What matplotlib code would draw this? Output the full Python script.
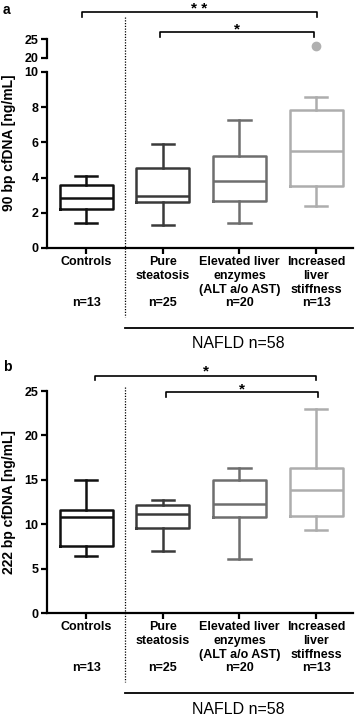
import matplotlib.pyplot as plt
import matplotlib.transforms as mtransforms

plt.rcParams['font.family'] = ['Liberation Sans', 'DejaVu Sans']
plt.rcParams['font.weight'] = 'bold'
plt.rcParams['axes.labelweight'] = 'bold'

groups = ["Controls", "Pure\nsteatosis", "Elevated liver\nenzymes\n(ALT a/o AST)",
          "Increased\nliver\nstiffness"]
group_n = ["n=13", "n=25", "n=20", "n=13"]
nafld_label = "NAFLD n=58"
colors = ["#111111", "#3a3a3a", "#6e6e6e", "#adadad"]

# panel a: 90 bp cfDNA (ng/mL), box summaries
a_whislo = [1.4, 1.3, 1.4, 2.4]
a_q1 = [2.2, 2.6, 2.65, 3.5]
a_med = [2.85, 2.95, 3.8, 5.5]
a_q3 = [3.6, 4.55, 5.2, 7.85]
a_whishi = [4.1, 5.9, 7.3, 8.6]
a_outlier_group = 3
a_outlier = 23.1

# panel b: 222 bp cfDNA (ng/mL)
b_whislo = [6.45, 6.95, 6.1, 9.3]
b_q1 = [7.6, 9.6, 10.8, 10.9]
b_med = [10.85, 11.15, 12.25, 13.85]
b_q3 = [11.65, 12.2, 14.95, 16.3]
b_whishi = [15.0, 12.7, 16.3, 23.0]

FIG_W, FIG_H = 359, 715
LW = 1.8
FS = 9


def fx(px):
    return px / FIG_W


def fy(px):
    return 1 - px / FIG_H


def style_axis(ax):
    for side in ("top", "right"):
        ax.spines[side].set_visible(False)
    for side in ("left", "bottom"):
        ax.spines[side].set_linewidth(1.6)
    ax.tick_params(axis="both", width=1.6, length=4, labelsize=FS, pad=2)


def draw_boxes(ax, whislo, q1, med, q3, whishi):
    for i in range(len(groups)):
        st = [dict(whislo=whislo[i], q1=q1[i], med=med[i], q3=q3[i], whishi=whishi[i], fliers=[])]
        props = dict(color=colors[i], linewidth=LW)
        ax.bxp(st, positions=[i], widths=0.69, capwidths=0.29, showfliers=False,
               boxprops=props, whiskerprops=props, capprops=props,
               medianprops=props, manage_ticks=False)


def bottom_labels(ax, ax_h_px):
    ax.set_xlim(-0.51, 3.48)
    ax.set_xticks(range(len(groups)))
    ax.set_xticklabels(groups, linespacing=1.2, fontsize=FS)
    trans = mtransforms.blended_transform_factory(ax.transData, ax.transAxes)
    for i, n in enumerate(group_n):
        ax.text(i, -55 / ax_h_px, n, transform=trans, ha="center", va="center", fontsize=FS)
    ax.plot([0.51, 3.48], [-80 / ax_h_px] * 2, transform=trans, color="k", lw=1.3, clip_on=False)
    ax.text(1.98, -96 / ax_h_px, nafld_label, transform=trans, ha="center", va="center",
            fontsize=11.5, fontweight="normal")
    return trans


def bracket(ax, trans, x0, x1, y, leg, label, ax_h_px, lift=0):
    yt = y / ax_h_px
    yl = (y - leg) / ax_h_px
    ax.plot([x0, x0, x1, x1], [yl, yt, yt, yl], transform=trans, color="k", lw=1.2, clip_on=False)
    ax.text((x0 + x1) / 2, yt + lift / ax_h_px, label, transform=trans, ha="center",
            va="baseline", fontsize=11)


fig = plt.figure(figsize=(FIG_W / 100, FIG_H / 100), dpi=100)

# ---- panel a (broken y axis) ----
ha_px = 248 - 72
ax_a = fig.add_axes([fx(47), fy(248), fx(306), ha_px / FIG_H])
style_axis(ax_a)
draw_boxes(ax_a, a_whislo, a_q1, a_med, a_q3, a_whishi)
ax_a.set_ylim(0, 10)
ax_a.set_yticks([0, 2, 4, 6, 8, 10])
ax_a.set_ylabel("90 bp cfDNA [ng/mL]", fontsize=10)
ax_a.yaxis.set_label_coords(-0.1, (248 - 143) / ha_px)
trans_a = bottom_labels(ax_a, ha_px)

ax_a2 = fig.add_axes([fx(47), fy(58), fx(306), 19 / FIG_H], sharex=ax_a)
for side in ("top", "right", "bottom"):
    ax_a2.spines[side].set_visible(False)
ax_a2.spines["left"].set_linewidth(1.6)
ax_a2.tick_params(axis="y", width=1.6, length=4, labelsize=FS, pad=2)
ax_a2.tick_params(axis="x", bottom=False, labelbottom=False)
ax_a2.set_ylim(20, 25)
ax_a2.set_yticks([20, 25])
ax_a2.plot([a_outlier_group], [a_outlier], "o", color="#b0b0b0", ms=6, clip_on=False)
ax_a2.patch.set_alpha(0)

ax_a.plot([0.51, 0.51], [(248 - 17) / ha_px, (248 - 317) / ha_px], transform=trans_a,
          color="k", lw=0.9, ls=(0, (1, 1.2)), clip_on=False)
bracket(ax_a, trans_a, -0.05, 3.01, 248 - 12, 5, "* *", ha_px, lift=-1)
bracket(ax_a, trans_a, 0.965, 2.97, 248 - 32, 5, "*", ha_px, lift=-1)
fig.text(fx(3), fy(3), "a", ha="left", va="top", fontsize=10)

# ---- panel b ----
hb_px = 613 - 391
ax_b = fig.add_axes([fx(47), fy(613), fx(306), hb_px / FIG_H])
style_axis(ax_b)
draw_boxes(ax_b, b_whislo, b_q1, b_med, b_q3, b_whishi)
ax_b.set_ylim(0, 25)
ax_b.set_yticks([0, 5, 10, 15, 20, 25])
ax_b.set_ylabel("222 bp cfDNA [ng/mL]", fontsize=10)
ax_b.yaxis.set_label_coords(-0.1, 0.5)
trans_b = bottom_labels(ax_b, hb_px)

ax_b.plot([0.51, 0.51], [(613 - 387) / hb_px, (613 - 682) / hb_px], transform=trans_b,
          color="k", lw=0.9, ls=(0, (1, 1.2)), clip_on=False)
bracket(ax_b, trans_b, 0.117, 3.0, 613 - 376, 4, "*", hb_px, lift=1)
bracket(ax_b, trans_b, 1.04, 3.02, 613 - 392, 5, "*", hb_px, lift=-1)
fig.text(fx(3), fy(360), "b", ha="left", va="top", fontsize=10)

fig.savefig("out.png", dpi=100)
